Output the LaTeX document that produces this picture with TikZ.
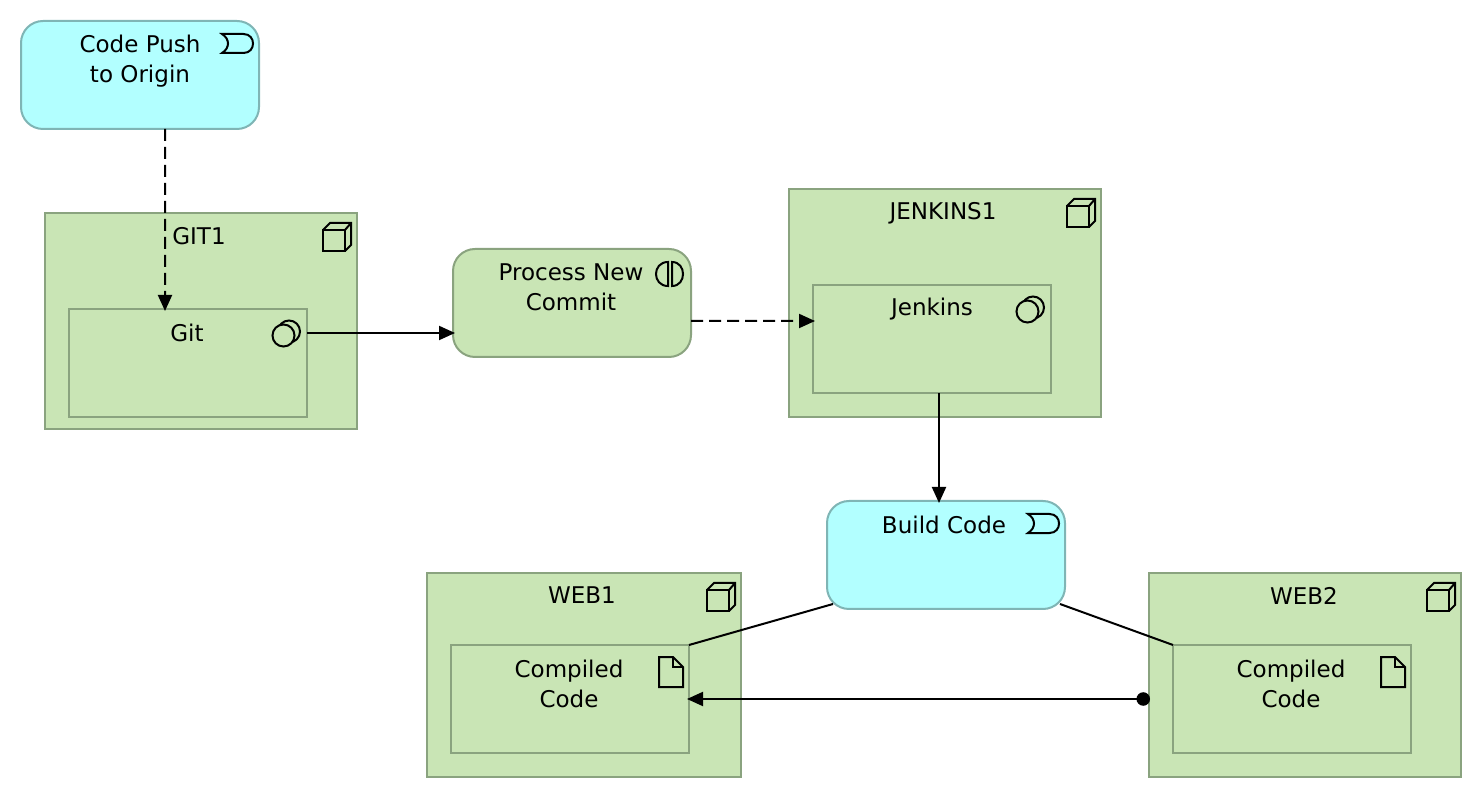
\documentclass[tikz,border=0pt]{standalone}
\usepackage{fontspec}
\setmainfont{DejaVu Sans}
\usetikzlibrary{arrows.meta}
\definecolor{busgreen}{HTML}{C9E5B5}
\definecolor{busline}{HTML}{8AA37F}
\definecolor{evtcyan}{HTML}{B2FFFF}
\definecolor{evtline}{HTML}{7FB5B5}
\tikzset{
  hostbox/.style={draw=busline, fill=busgreen, line width=0.04cm, outer sep=0pt, minimum width=6.24cm},
  appbox/.style={draw=busline, fill=busgreen, line width=0.04cm, outer sep=0pt, minimum width=4.76cm, minimum height=2.16cm},
  procbox/.style={appbox, rounded corners=0.44cm},
  evtbox/.style={procbox, draw=evtline, fill=evtcyan},
  lbl/.style={font=\fontsize{13.1}{17}\selectfont, align=center, inner sep=0pt},
  flow/.style={-{Triangle[length=0.32cm,width=0.28cm]}, line width=0.04cm},
  trig/.style={flow, dash pattern=on 0.24cm off 0.12cm},
  assoc/.style={line width=0.04cm},
  icon/.style={line width=0.04cm, black}
}
% icons, in pixels from the box's top right corner
\newcommand{\deviceicon}[1]{
  \begin{scope}[shift={(#1.north east)}, x=0.02cm, y=-0.02cm, icon]
    \draw (-34,17) rectangle (-12,38);
    \draw (-34,17) -- (-27,10) -- (-6,10) -- (-6,32) -- (-12,38);
    \draw (-12,17) -- (-6,10);
  \end{scope}
}
\newcommand{\eventicon}[1]{
  \begin{scope}[shift={(#1.north east)}, x=0.02cm, y=-0.02cm, icon]
    \draw (-37,13) .. controls (-29,18) and (-29,27) .. (-37,32) -- (-15.5,32)
      .. controls (-2.8,32) and (-2.8,13) .. (-15.5,13) -- cycle;
  \end{scope}
}
\newcommand{\interacticon}[1]{
  \begin{scope}[shift={(#1.north east)}, x=0.02cm, y=-0.02cm, icon]
    \draw (-23,13) .. controls (-39,13) and (-39,37) .. (-23,37) -- cycle;
    \draw (-19,13) .. controls (-4.3,13) and (-4.3,37) .. (-19,37) -- cycle;
  \end{scope}
}
\newcommand{\softicon}[1]{
  \begin{scope}[shift={(#1.north east)}, x=0.02cm, y=-0.02cm, icon]
    \draw (-18,22.5) circle [radius=11];
    \draw [fill=busgreen] (-23.5,26.5) circle [radius=11];
  \end{scope}
}
\newcommand{\docicon}[1]{
  \begin{scope}[shift={(#1.north east)}, x=0.02cm, y=-0.02cm, icon]
    \draw (-30,12) -- (-16,12) -- (-6,22) -- (-6,42) -- (-30,42) -- cycle;
    \draw (-16,12) -- (-16,22) -- (-6,22);
  \end{scope}
}
\begin{document}
\begin{tikzpicture}
\useasboundingbox (0,0) rectangle (29.64,15.96);

\node [evtbox] (push) at (2.8,14.46) {};
\node [lbl] (pushtxt) at (2.8,14.74) {Code Push\\to Origin};
\eventicon{push}

\node [hostbox, minimum height=4.32cm] (gitone) at (4.02,9.54) {};
\node [lbl] (gitonetxt) at (3.98,11.24) {GIT1};
\deviceicon{gitone}
\node [appbox] (git) at (3.76,8.70) {};
\node [lbl] (gittxt) at (3.74,9.31) {Git};
\softicon{git}

\node [procbox, fill=busgreen] (commit) at (11.44,9.90) {};
\node [lbl] (committxt) at (11.42,10.21) {Process New\\Commit};
\interacticon{commit}

\node [hostbox, minimum height=4.56cm] (jenkinsone) at (18.9,9.90) {};
\node [lbl] (jenkinsonetxt) at (18.86,11.69) {JENKINS1};
\deviceicon{jenkinsone}
\node [appbox] (jenkins) at (18.64,9.18) {};
\node [lbl] (jenkinstxt) at (18.64,9.77) {Jenkins};
\softicon{jenkins}

\node [evtbox] (build) at (18.92,4.86) {};
\node [lbl] (buildtxt) at (18.88,5.47) {Build Code};
\eventicon{build}

\node [hostbox, minimum width=6.28cm, minimum height=4.08cm] (webone) at (11.68,2.46) {};
\node [lbl] (webonetxt) at (11.64,4.05) {WEB1};
\deviceicon{webone}
\node [appbox] (codeone) at (11.40,1.98) {};
\node [lbl] (codeonetxt) at (11.38,2.29) {Compiled\\Code};
\docicon{codeone}

\node [hostbox, minimum height=4.08cm] (webtwo) at (26.1,2.46) {};
\node [lbl] (webtwotxt) at (26.08,4.05) {WEB2};
\deviceicon{webtwo}
\node [appbox] (codetwo) at (25.84,1.98) {};
\node [lbl] (codetwotxt) at (25.82,2.29) {Compiled\\Code};
\docicon{codetwo}

\draw [trig] ([xshift=0.5cm]push.south) -- ([xshift=-0.46cm,yshift=-0.04cm]git.north);
\draw [flow] ([yshift=0.6cm]git.east) -- ([yshift=0.6cm,xshift=0.04cm]commit.west |- git.east);
\draw [trig] ([yshift=-0.36cm]commit.east) -- ([xshift=0.04cm,yshift=0.36cm]jenkins.west);
\draw [flow] ([xshift=0.14cm]jenkins.south) -- ([xshift=-0.14cm,yshift=-0.04cm]build.north);
\draw [assoc] ([xshift=0.12cm,yshift=0.1cm]build.south west) -- (codeone.north east);
\draw [assoc] ([xshift=-0.1cm,yshift=0.1cm]build.south east) -- (codetwo.north west);
\draw [flow, {Circle[length=0.27cm]}-{Triangle[length=0.32cm,width=0.28cm]}] ([xshift=-0.46cm]codetwo.west) -- ([xshift=-0.04cm]codeone.east);
\end{tikzpicture}
\end{document}
